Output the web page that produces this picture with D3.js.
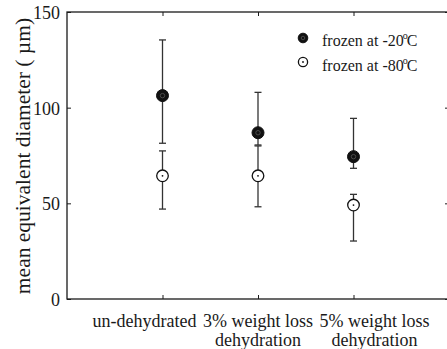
<!DOCTYPE html>
<html><head><meta charset="utf-8">
<script src="https://cdn.jsdelivr.net/npm/d3@7"></script>
<style>body{margin:0;background:#fff}svg{display:block}text{font-family:"Liberation Serif","Times New Roman",Times,"DejaVu Serif",serif}</style>
</head><body>
<svg id="c" width="447" height="349"></svg>
<script>
const categories = ["un-dehydrated", "3% weight loss|dehydration", "5% weight loss|dehydration"];
const seriesNames = ["frozen at -20", "frozen at -80"];
const mean20 = [106.3, 86.9, 74.4];
const upper20 = [135.4, 108.0, 94.4];
const lower20 = [81.4, 80.5, 68.3];
const mean80 = [64.4, 64.4, 49.1];
const upper80 = [77.4, 80.0, 54.7];
const lower80 = [47.0, 48.2, 30.3];
const yTicks = [0, 50, 100, 150];

const svg = d3.select("#c");
const L = 67, R = 449, T = 12, B = 299;
const x = d3.scaleLinear().domain([0, 4]).range([L, R]);
const y = d3.scaleLinear().domain([0, 150]).range([B, T]);
const ink = "#1a1a1a";
const labelShift = [-18, 0, 21]; // layout: label offsets from tick (px)

// frame
svg.append("rect").attr("x", L).attr("y", T).attr("width", R - L).attr("height", B - T)
  .attr("fill", "none").attr("stroke", ink).attr("stroke-width", 1.3);

// y axis
const ya = svg.append("g").attr("transform", `translate(${L},0)`)
  .call(d3.axisLeft(y).tickValues(yTicks).tickSize(-4).tickPadding(7).tickFormat(d3.format("d")));
ya.select(".domain").remove();
ya.selectAll("line").attr("stroke", ink);
ya.selectAll("text").attr("font-size", 18).attr("fill", ink).attr("dy", "0.36em");
const yr = svg.append("g").attr("transform", `translate(${R},0)`)
  .call(d3.axisRight(y).tickValues(yTicks).tickSize(-4).tickFormat(""));
yr.select(".domain").remove();
yr.selectAll("line").attr("stroke", ink);

// x axis ticks
const cx = [1, 2, 3];
const xb = svg.append("g").attr("transform", `translate(0,${B})`)
  .call(d3.axisBottom(x).tickValues(cx).tickSize(-4).tickFormat(""));
xb.select(".domain").remove();
xb.selectAll("line").attr("stroke", ink);
const xt = svg.append("g").attr("transform", `translate(0,${T})`)
  .call(d3.axisTop(x).tickValues(cx).tickSize(-4).tickFormat(""));
xt.select(".domain").remove();
xt.selectAll("line").attr("stroke", ink);

// x labels
categories.forEach((c, i) => {
  const px = x(cx[i]) + labelShift[i];
  c.split("|").forEach((line, j) => {
    svg.append("text").attr("x", px).attr("y", 327 + j * 19)
      .attr("text-anchor", "middle").attr("font-size", 18).attr("fill", ink).text(line);
  });
});

// y label
svg.append("text").attr("transform", `translate(30,156) rotate(-90)`)
  .attr("text-anchor", "middle").attr("font-size", 21.5).attr("fill", ink)
  .text("mean equivalent diameter ( \u00b5m)");

// error bars
function errBars(lo, hi) {
  cx.forEach((v, i) => {
    const g = svg.append("g").attr("stroke", "#333").attr("stroke-width", 1.3);
    g.append("line").attr("x1", x(v)).attr("x2", x(v)).attr("y1", y(lo[i])).attr("y2", y(hi[i]));
    [lo[i], hi[i]].forEach(val => g.append("line").attr("x1", x(v) - 3.5).attr("x2", x(v) + 3.5)
      .attr("y1", y(val)).attr("y2", y(val)));
  });
}
errBars(lower20, upper20);
errBars(lower80, upper80);

function filled(g, px, py, r) {
  g.append("circle").attr("cx", px).attr("cy", py).attr("r", r).attr("fill", "#111").attr("stroke", "#111");
  g.append("circle").attr("cx", px).attr("cy", py).attr("r", r * 0.37).attr("fill", "none").attr("stroke", "#555").attr("stroke-width", 0.8);
}
function open(g, px, py, r) {
  g.append("circle").attr("cx", px).attr("cy", py).attr("r", r).attr("fill", "#fff").attr("stroke", "#111").attr("stroke-width", 1.3);
  g.append("circle").attr("cx", px).attr("cy", py).attr("r", 0.9).attr("fill", "#111");
}
const mg = svg.append("g");
cx.forEach((v, i) => filled(mg, x(v), y(mean20[i]), 6));
cx.forEach((v, i) => open(mg, x(v), y(mean80[i]), 5.8));

// legend
const lg = svg.append("g");
filled(lg, 303, 38, 4.8);
open(lg, 303, 62, 4.6);
[["frozen at -20", 46], ["frozen at -80", 71]].forEach(([s, yy]) => {
  const t = lg.append("text").attr("x", 322).attr("y", yy).attr("font-size", 16).attr("fill", ink);
  t.append("tspan").text(s);
  t.append("tspan").attr("font-size", 10).attr("dy", -7).attr("dx", -1).text("o");
  t.append("tspan").attr("dy", 7).attr("dx", -1).text("C");
});
</script>
</body></html>
